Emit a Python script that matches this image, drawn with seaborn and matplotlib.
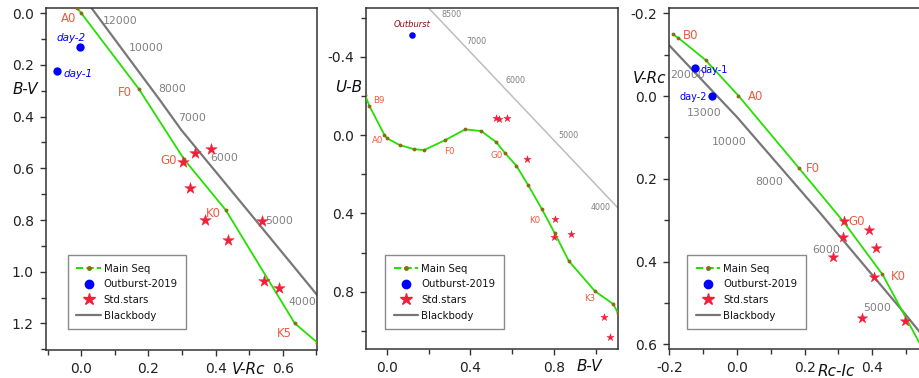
import matplotlib
matplotlib.use("Agg")
import matplotlib.pyplot as plt
import seaborn as sns
import pandas as pd
from matplotlib.lines import Line2D
from matplotlib.ticker import MultipleLocator, FormatStrFormatter

# ---------------- Panel 1 : V-Rc vs B-V ----------------
p1_ms_x = [-0.012, 0.0, 0.172, 0.306, 0.430, 0.636, 0.703]
p1_ms_y = [-0.020, 0.0, 0.294, 0.565, 0.761, 1.200, 1.274]
p1_bb_x = [0.031, 0.234, 0.298, 0.531, 0.703]
p1_bb_y = [-0.019, 0.336, 0.452, 0.819, 1.091]
p1_star_x = [0.302, 0.340, 0.386, 0.324, 0.369, 0.437, 0.538, 0.544, 0.590]
p1_star_y = [0.577, 0.540, 0.525, 0.675, 0.800, 0.878, 0.803, 1.035, 1.062]
p1_ob_x = [-0.004, -0.072]
p1_ob_y = [0.129, 0.223]
p1_day_lab = ["day-2", "day-1"]
p1_day_x = [-0.029, -0.011]
p1_day_y = [0.097, 0.236]
p1_sp_lab = ["A0", "F0", "G0", "K0", "K5"]
p1_sp_x = [-0.014, 0.152, 0.285, 0.417, 0.627]
p1_sp_y = [0.019, 0.306, 0.571, 0.774, 1.239]
p1_T_lab = ["12000", "10000", "8000", "7000", "6000", "5000", "4000"]
p1_T_x = [0.063, 0.142, 0.229, 0.288, 0.384, 0.549, 0.616]
p1_T_y = [0.029, 0.133, 0.294, 0.404, 0.560, 0.803, 1.119]

# ---------------- Panel 2 : B-V vs U-B ----------------
p2_ms_x = [-0.105, -0.084, -0.012, 0.001, 0.060, 0.129, 0.177, 0.279, 0.375,
           0.452, 0.524, 0.564, 0.620, 0.676, 0.743, 0.804, 0.871, 0.996, 1.084, 1.108]
p2_ms_y = [-0.204, -0.148, 0.0, 0.017, 0.051, 0.072, 0.077, 0.026, -0.029,
           -0.020, 0.037, 0.090, 0.157, 0.255, 0.380, 0.502, 0.643, 0.797, 0.863, 0.911]
p2_bb_x = [0.201, 1.108]
p2_bb_y = [-0.647, 0.374]
p2_star_x = [0.524, 0.537, 0.575, 0.673, 0.807, 0.801, 0.881, 1.039, 1.068]
p2_star_y = [-0.085, -0.082, -0.085, 0.123, 0.431, 0.519, 0.507, 0.931, 1.030]
p2_ob_x = [0.119]
p2_ob_y = [-0.511]
p2_ob_lab = "Outburst"
p2_ob_lab_x = 0.119
p2_ob_lab_y = -0.565
p2_sp_lab = ["B9", "A0", "F0", "G0", "K0", "K3"]
p2_sp_x = [-0.039, -0.044, 0.298, 0.524, 0.710, 0.972]
p2_sp_y = [-0.175, 0.029, 0.082, 0.106, 0.434, 0.834]
p2_T_lab = ["8500", "7000", "6000", "5000", "4000"]
p2_T_x = [0.308, 0.428, 0.617, 0.868, 1.023]
p2_T_y = [-0.613, -0.477, -0.277, 0.003, 0.369]

# ---------------- Panel 3 : Rc-Ic vs V-Rc ----------------
p3_ms_x = [-0.190, -0.174, -0.093, 0.004, 0.184, 0.315, 0.430, 0.545]
p3_ms_y = [-0.149, -0.141, -0.087, -0.001, 0.175, 0.304, 0.431, 0.605]
p3_bb_x = [-0.201, -0.001, 0.246, 0.487, 0.541]
p3_bb_y = [-0.123, 0.050, 0.283, 0.517, 0.571]
p3_star_x = [0.317, 0.314, 0.391, 0.410, 0.285, 0.406, 0.371, 0.497]
p3_star_y = [0.302, 0.340, 0.324, 0.368, 0.388, 0.437, 0.537, 0.544]
p3_ob_x = [-0.124, -0.075]
p3_ob_y = [-0.068, -0.001]
p3_day_lab = ["day-1", "day-2"]
p3_day_x = [-0.107, -0.090]
p3_day_y = [-0.063, 0.003]
p3_sp_lab = ["B0", "A0", "F0", "G0", "K0"]
p3_sp_x = [-0.161, 0.033, 0.204, 0.330, 0.456]
p3_sp_y = [-0.147, 0.002, 0.175, 0.304, 0.437]
p3_T_lab = ["20000", "13000", "10000", "8000", "6000", "5000"]
p3_T_x = [-0.147, -0.097, -0.024, 0.095, 0.265, 0.413]
p3_T_y = [-0.051, 0.042, 0.112, 0.207, 0.372, 0.513]

legend_labels = ["Main Seq", "Outburst-2019", "Std.stars", "Blackbody"]

GREEN = "#22e000"
BROWN = "#8b6a14"
RED = "#f0203a"
BLUE = "#0000ff"
SPCOL = "#ee5a40"
TCOL = "#808080"

sns.set_style("ticks")
plt.rcParams["font.family"] = ["DejaVu Sans"]
plt.rcParams["axes.unicode_minus"] = False

fig = plt.figure(figsize=(9.2, 3.78), dpi=100)
ax1 = fig.add_axes([0.0497, 0.074, 0.2952, 0.904])
ax2 = fig.add_axes([0.3975, 0.076, 0.2745, 0.902])
ax3 = fig.add_axes([0.7272, 0.076, 0.2728, 0.902])


def panel(ax, msx, msy, bbx, bby, bbcol, bblw, sx, sy, ss, ox, oy, os_):
    sns.lineplot(data=pd.DataFrame({"x": bbx, "y": bby}), x="x", y="y", sort=False,
                 estimator=None, color=bbcol, lw=bblw, ax=ax, zorder=2)
    sns.lineplot(data=pd.DataFrame({"x": msx, "y": msy}), x="x", y="y", sort=False,
                 estimator=None, color=GREEN, lw=1.3, ax=ax, zorder=3,
                 marker="o", markersize=2.0, markerfacecolor=BROWN,
                 markeredgecolor=BROWN)
    sns.scatterplot(x=sx, y=sy, marker="*", s=ss, color=RED, edgecolor=RED,
                    linewidth=0.3, ax=ax, zorder=4)
    sns.scatterplot(x=ox, y=oy, marker="o", s=os_, color=BLUE, edgecolor=BLUE,
                    linewidth=0, ax=ax, zorder=5)


def style(ax, xlim, ylim, xmaj, xmin, ymaj, ymin, xlabel, xl_pos, ylabel, yl_pos,
          leg_pos, right=True):
    ax.set_xlim(*xlim)
    ax.set_ylim(*ylim)
    ax.xaxis.set_major_locator(MultipleLocator(xmaj))
    ax.xaxis.set_minor_locator(MultipleLocator(xmin))
    ax.yaxis.set_major_locator(MultipleLocator(ymaj))
    ax.yaxis.set_minor_locator(MultipleLocator(ymin))
    ax.xaxis.set_major_formatter(FormatStrFormatter("%.1f"))
    ax.yaxis.set_major_formatter(FormatStrFormatter("%.1f"))
    ax.tick_params(which="major", length=4.5, width=1, colors="#333333",
                   labelsize=10, labelcolor="#222222", pad=4)
    ax.tick_params(which="minor", length=3.5, width=1, colors="#333333")
    for sp in ax.spines.values():
        sp.set_color("#333333")
        sp.set_linewidth(1.1)
    ax.spines["right"].set_visible(right)
    ax.set_xlabel(xlabel, fontsize=11, style="italic", color="#111111",
                  ha="center", va="center")
    ax.set_ylabel(ylabel, fontsize=11, style="italic", color="#111111",
                  rotation=0, ha="center", va="center")
    ax.xaxis.set_label_coords(*xl_pos)
    ax.yaxis.set_label_coords(*yl_pos)
    handles = [
        Line2D([], [], color=GREEN, lw=1.5, ls=(0, (3.5, 1.5)), marker="o",
               markersize=2.5, markerfacecolor=BROWN, markeredgecolor=BROWN),
        Line2D([], [], ls="none", marker="o", markersize=6, color=BLUE),
        Line2D([], [], ls="none", marker="*", markersize=9, color=RED),
        Line2D([], [], color="#777777", lw=1.6),
    ]
    leg = ax.legend(handles, legend_labels, loc="lower left", bbox_to_anchor=leg_pos,
                    borderaxespad=0, fontsize=7.3, frameon=True, fancybox=False,
                    edgecolor="#8a8a8a", framealpha=1, handlelength=2.4,
                    handletextpad=0.3, labelspacing=0.55, borderpad=0.85)
    leg.get_frame().set_linewidth(1.0)
    for t in leg.get_texts():
        t.set_color("#111111")


# Panel 1
panel(ax1, p1_ms_x, p1_ms_y, p1_bb_x, p1_bb_y, "#777777", 1.6,
      p1_star_x, p1_star_y, 75, p1_ob_x, p1_ob_y, 36)
for lab, x, y in zip(p1_sp_lab, p1_sp_x, p1_sp_y):
    ax1.text(x, y, lab, color=SPCOL, fontsize=8.5, ha="right", va="center")
for lab, x, y in zip(p1_T_lab, p1_T_x, p1_T_y):
    ax1.text(x, y, lab, color=TCOL, fontsize=7.8, ha="left", va="center")
for lab, x, y in zip(p1_day_lab, p1_day_x, p1_day_y):
    ax1.text(x, y, lab, color=BLUE, fontsize=7.5, style="italic", ha="center", va="center")
style(ax1, (-0.106, 0.703), (1.303, -0.019), 0.2, 0.1, 0.2, 0.1,
      "V-Rc", (0.746, -0.057), "B-V", (-0.076, 0.763), (0.081, 0.061))

# Panel 2
panel(ax2, p2_ms_x, p2_ms_y, p2_bb_x, p2_bb_y, "#bdbdbd", 1.1,
      p2_star_x, p2_star_y, 30, p2_ob_x, p2_ob_y, 22)
for lab, x, y in zip(p2_sp_lab, p2_sp_x, p2_sp_y):
    ax2.text(x, y, lab, color=SPCOL, fontsize=6.2, ha="center", va="center")
for lab, x, y in zip(p2_T_lab, p2_T_x, p2_T_y):
    ax2.text(x, y, lab, color=TCOL, fontsize=5.8, ha="center", va="center")
ax2.text(p2_ob_lab_x, p2_ob_lab_y, p2_ob_lab, color="#8b1010", fontsize=6,
         style="italic", ha="center", va="center")
style(ax2, (-0.102, 1.108), (1.094, -0.647), 0.4, 0.2, 0.4, 0.2,
      "B-V", (0.885, -0.051), "U-B", (-0.069, 0.768), (0.076, 0.059))

# Panel 3
panel(ax3, p3_ms_x, p3_ms_y, p3_bb_x, p3_bb_y, "#777777", 1.6,
      p3_star_x, p3_star_y, 62, p3_ob_x, p3_ob_y, 36)
for lab, x, y in zip(p3_sp_lab, p3_sp_x, p3_sp_y):
    ax3.text(x, y, lab, color=SPCOL, fontsize=8.5, ha="left", va="center")
for lab, x, y in zip(p3_T_lab, p3_T_x, p3_T_y):
    ax3.text(x, y, lab, color=TCOL, fontsize=7.8, ha="center", va="center")
ax3.text(p3_day_x[0], p3_day_y[0], p3_day_lab[0], color=BLUE, fontsize=7,
         ha="left", va="center")
ax3.text(p3_day_x[1], p3_day_y[1], p3_day_lab[1], color=BLUE, fontsize=7,
         ha="right", va="center")
style(ax3, (-0.201, 0.541), (0.612, -0.212), 0.2, 0.1, 0.2, 0.1,
      "Rc-Ic", (0.668, -0.064), "V-Rc", (-0.078, 0.793), (0.073, 0.059), right=False)

fig.savefig("out.png", dpi=100)
